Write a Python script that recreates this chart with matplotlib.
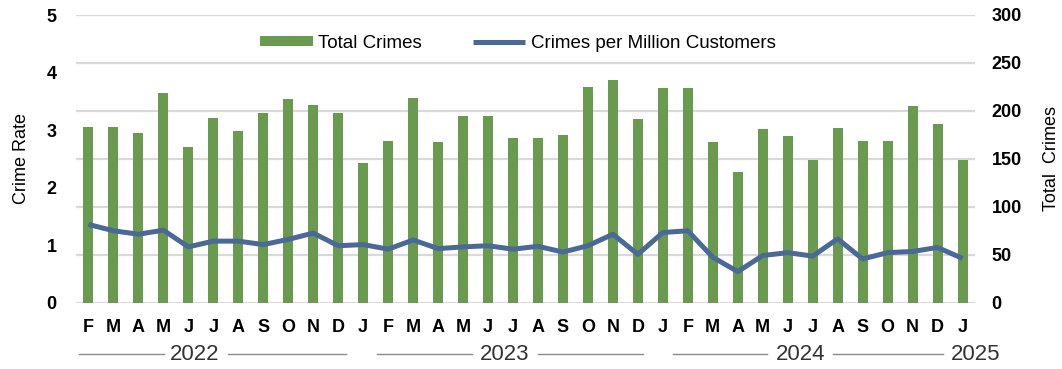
import matplotlib.pyplot as plt
import numpy as np

plt.rcParams['font.family'] = ['Liberation Sans', 'DejaVu Sans']

months = ['F', 'M', 'A', 'M', 'J', 'J', 'A', 'S', 'O', 'N', 'D',
          'J', 'F', 'M', 'A', 'M', 'J', 'J', 'A', 'S', 'O', 'N', 'D',
          'J', 'F', 'M', 'A', 'M', 'J', 'J', 'A', 'S', 'O', 'N', 'D',
          'J']
total_crimes = [183, 183, 177, 219, 162, 193, 179, 198, 212, 206, 198,
                146, 169, 213, 168, 195, 195, 172, 172, 175, 225, 232, 192,
                224, 224, 168, 136, 181, 174, 149, 182, 169, 169, 205, 186,
                149]
crime_rate = [1.36, 1.25, 1.19, 1.26, 0.97, 1.07, 1.07, 1.01, 1.10, 1.21, 0.99,
              1.01, 0.93, 1.09, 0.94, 0.97, 0.99, 0.93, 0.98, 0.88, 0.99, 1.19, 0.84,
              1.22, 1.25, 0.79, 0.54, 0.82, 0.87, 0.81, 1.11, 0.76, 0.87, 0.89, 0.96,
              0.77]
year_labels = ['2022', '2023', '2024', '2025']

green = '#6a9a50'
blue = '#4a6997'
grid_c = '#d9d9d9'

fig = plt.figure(figsize=(10.62, 3.69), dpi=100)
ax = fig.add_axes([76/1062, 1 - 302.7/369, (975 - 76)/1062, (302.7 - 15)/369])
ax2 = ax.twinx()

x = np.arange(len(months))
ax2.bar(x, total_crimes, width=0.4, color=green, label='Total Crimes', zorder=2)
ax.plot(x, crime_rate, color=blue, linewidth=3.6, label='Crimes per Million Customers',
        solid_capstyle='butt', zorder=3)

# line on top of bars
ax.set_zorder(ax2.get_zorder() + 1)
ax.patch.set_visible(False)

ax.set_xlim(-0.5, len(months) - 0.5)
ax.set_ylim(0, 5)
ax2.set_ylim(0, 300)
ax.set_yticks(range(0, 6))
ax2.set_yticks(range(0, 301, 50))
for yv in range(0, 301, 50):
    ax2.axhline(yv, color=grid_c, linewidth=1.6, zorder=0)

for a in (ax, ax2):
    for s in a.spines.values():
        s.set_visible(False)
    a.tick_params(length=0)
ax.tick_params(axis='y', labelsize=13, pad=14)
ax2.tick_params(axis='y', labelsize=13, pad=12)
for lab in ax.get_yticklabels() + ax2.get_yticklabels():
    lab.set_fontweight('bold')

ax.set_xticks(x)
ax.set_xticklabels(months, fontsize=13, fontweight='bold')
ax.tick_params(axis='x', pad=12)

ax.set_ylabel('Crime Rate', fontsize=13, labelpad=12)
ax2.set_ylabel('Total  Crimes', fontsize=13, labelpad=15)

# year groupings under the month labels (x in data units, y in axes fraction)
trans = ax.get_xaxis_transform()
ypos = -0.18
year_spans = [(-0.38, 3.02, 4.27, 5.59, 10.31),
              (11.55, 15.36, 16.68, 18.0, 22.21),
              (23.41, 27.17, 28.5, 29.82, 34.22),
              (None, None, 35.52, None, None)]
for label, (a0, a1, tx, b0, b1) in zip(year_labels, year_spans):
    if a0 is not None:
        ax.plot([a0, a1], [ypos] * 2, transform=trans, clip_on=False,
                color='#8c8c8c', linewidth=1.0)
    if b0 is not None:
        ax.plot([b0, b1], [ypos] * 2, transform=trans, clip_on=False,
                color='#8c8c8c', linewidth=1.0)
    ax.text(tx, ypos, label, transform=trans, ha='center', va='center',
            fontsize=16, color='#333333')

h1, l1 = ax2.get_legend_handles_labels()
h2, l2 = ax.get_legend_handles_labels()
fig.legend(h1 + h2, l1 + l2, loc='center', bbox_to_anchor=(518/1062, 1 - 43/369),
           ncol=2, frameon=False, fontsize=13.5, handlelength=2.8, handleheight=0.4,
           columnspacing=2.7, handletextpad=0.3)

fig.savefig('out.png', dpi=100)
